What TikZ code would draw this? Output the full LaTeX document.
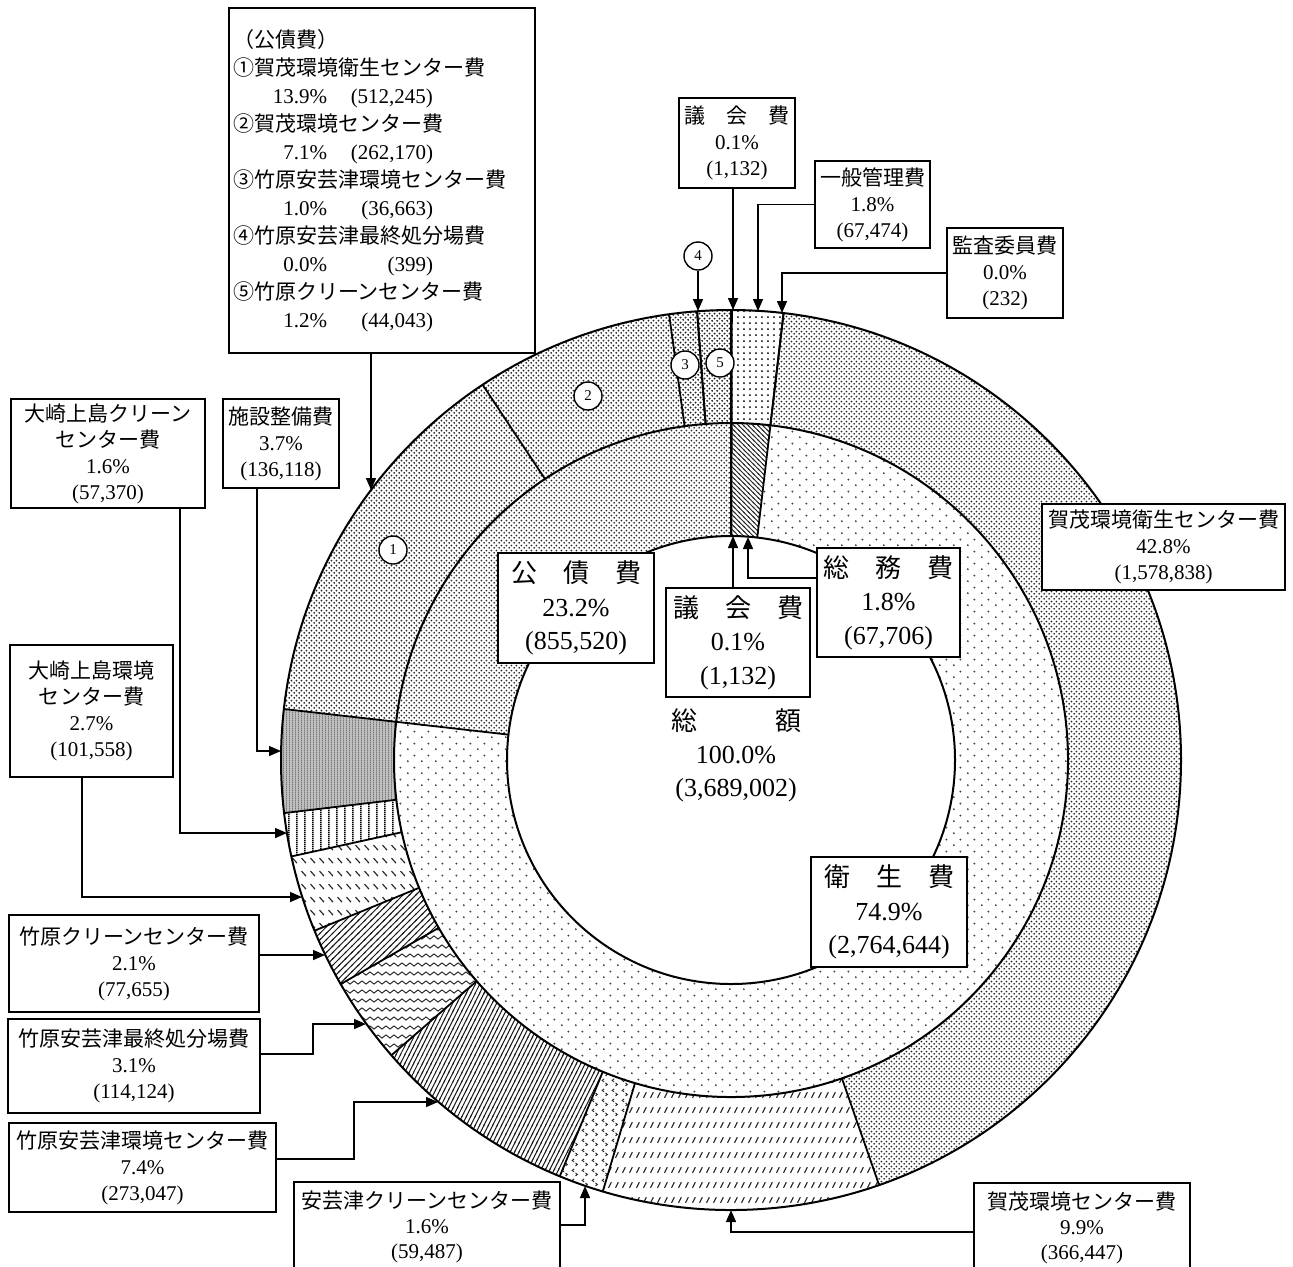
\documentclass[tikz,border=0pt]{standalone}
\usepackage{fontspec}
\setmainfont{Liberation Serif}
\newfontfamily\jp{Noto Sans CJK JP}
\usetikzlibrary{arrows.meta,patterns}

\pgfdeclarepatternformonly{fdots}{\pgfpointorigin}{\pgfqpoint{2.4pt}{2.4pt}}{\pgfqpoint{2.4pt}{2.4pt}}{%
  \pgfpathcircle{\pgfqpoint{0.6pt}{0.6pt}}{0.52pt}%
  \pgfpathcircle{\pgfqpoint{1.8pt}{1.8pt}}{0.52pt}\pgfusepath{fill}}
\pgfdeclarepatternformonly{mdots}{\pgfpointorigin}{\pgfqpoint{3.2pt}{3.2pt}}{\pgfqpoint{3.2pt}{3.2pt}}{%
  \pgfpathcircle{\pgfqpoint{1.6pt}{1.6pt}}{0.55pt}\pgfusepath{fill}}
\pgfdeclarepatternformonly{sdots}{\pgfpointorigin}{\pgfqpoint{7pt}{6pt}}{\pgfqpoint{7pt}{6pt}}{%
  \pgfpathcircle{\pgfqpoint{1pt}{1pt}}{0.55pt}%
  \pgfpathcircle{\pgfqpoint{4.5pt}{4pt}}{0.55pt}\pgfusepath{fill}}
\pgfdeclarepatternformonly{vbars}{\pgfpointorigin}{\pgfqpoint{4pt}{1pt}}{\pgfqpoint{4pt}{1pt}}{%
  \pgfpathrectangle{\pgfpointorigin}{\pgfqpoint{0.9pt}{1pt}}\pgfusepath{fill}}
\pgfdeclarepatternformonly{vfine}{\pgfpointorigin}{\pgfqpoint{1.4pt}{1pt}}{\pgfqpoint{1.4pt}{1pt}}{%
  \pgfpathrectangle{\pgfpointorigin}{\pgfqpoint{0.5pt}{1pt}}\pgfusepath{fill}}
\pgfdeclarepatternformonly{bdash}{\pgfpointorigin}{\pgfqpoint{4.7pt}{6.7pt}}{\pgfqpoint{4.7pt}{6.7pt}}{%
  \pgfsetlinewidth{0.6pt}\pgfpathmoveto{\pgfqpoint{0.8pt}{4.6pt}}\pgfpathlineto{\pgfqpoint{3.2pt}{2pt}}\pgfusepath{stroke}}
\pgfdeclarepatternformonly{neline}{\pgfqpoint{-0.5pt}{-0.5pt}}{\pgfqpoint{3.7pt}{3.7pt}}{\pgfqpoint{3.2pt}{3.2pt}}{%
  \pgfsetlinewidth{0.5pt}\pgfpathmoveto{\pgfqpoint{-0.5pt}{-0.5pt}}\pgfpathlineto{\pgfqpoint{3.7pt}{3.7pt}}\pgfusepath{stroke}}
\pgfdeclarepatternformonly{nwline}{\pgfqpoint{-0.5pt}{-0.5pt}}{\pgfqpoint{2.9pt}{2.9pt}}{\pgfqpoint{2.4pt}{2.4pt}}{%
  \pgfsetlinewidth{0.45pt}\pgfpathmoveto{\pgfqpoint{-0.5pt}{2.9pt}}\pgfpathlineto{\pgfqpoint{2.9pt}{-0.5pt}}\pgfusepath{stroke}}
\pgfdeclarepatternformonly{steep}{\pgfqpoint{-0.3pt}{-0.6pt}}{\pgfqpoint{2.5pt}{5pt}}{\pgfqpoint{2.2pt}{4.4pt}}{%
  \pgfsetlinewidth{0.5pt}\pgfpathmoveto{\pgfqpoint{-0.3pt}{-0.6pt}}\pgfpathlineto{\pgfqpoint{2.5pt}{5pt}}\pgfusepath{stroke}}
\pgfdeclarepatternformonly{wave}{\pgfqpoint{-0.5pt}{0pt}}{\pgfqpoint{4.5pt}{4.5pt}}{\pgfqpoint{4pt}{4.5pt}}{%
  \pgfsetlinewidth{0.45pt}\pgfpathmoveto{\pgfqpoint{0pt}{2.25pt}}%
  \pgfpathcurveto{\pgfqpoint{0.7pt}{3.3pt}}{\pgfqpoint{1.3pt}{3.3pt}}{\pgfqpoint{2pt}{2.25pt}}%
  \pgfpathcurveto{\pgfqpoint{2.7pt}{1.2pt}}{\pgfqpoint{3.3pt}{1.2pt}}{\pgfqpoint{4pt}{2.25pt}}%
  \pgfusepath{stroke}}
\pgfdeclarepatternformonly{chev}{\pgfpointorigin}{\pgfqpoint{5pt}{5pt}}{\pgfqpoint{5pt}{5pt}}{%
  \pgfsetlinewidth{0.5pt}%
  \pgfpathmoveto{\pgfqpoint{2.2pt}{4.4pt}}\pgfpathlineto{\pgfqpoint{1.2pt}{3.6pt}}\pgfpathlineto{\pgfqpoint{2.2pt}{2.8pt}}%
  \pgfpathmoveto{\pgfqpoint{3pt}{2.2pt}}\pgfpathlineto{\pgfqpoint{4pt}{1.4pt}}\pgfpathlineto{\pgfqpoint{3pt}{0.6pt}}%
  \pgfusepath{stroke}}
\pgfdeclarepatternformonly{slash}{\pgfpointorigin}{\pgfqpoint{3.3pt}{7.5pt}}{\pgfqpoint{3.3pt}{7.5pt}}{%
  \pgfsetlinewidth{0.55pt}\pgfpathmoveto{\pgfqpoint{0.8pt}{2.2pt}}\pgfpathlineto{\pgfqpoint{2.3pt}{5.2pt}}\pgfusepath{stroke}}

\begin{document}
\begin{tikzpicture}[x=0.5pt,y=-0.5pt,line width=0.7pt,
          >={Triangle[length=6pt,width=5pt]},
          box/.style={draw,fill=white,line width=0.9pt,inner sep=0pt,align=center,
            font=\fontsize{10.5pt}{13pt}\selectfont},
          bigbox/.style={box,font=\fontsize{13pt}{16.75pt}\selectfont},
          num/.style={circle,draw,fill=white,line width=0.7pt,inner sep=0pt,
            minimum size=14pt,font=\fontsize{7.5pt}{7.5pt}\selectfont},
          pkd/.style={pattern=fdots,pattern color=black!85},
          pmd/.style={pattern=mdots,pattern color=black},
          psd/.style={pattern=sdots,pattern color=black!75},
          pvl/.style={pattern=vbars,pattern color=black},
          pbd/.style={pattern=bdash,pattern color=black!85},
          pne/.style={pattern=neline,pattern color=black!90},
          pnw/.style={pattern=nwline,pattern color=black!85},
          pst/.style={pattern=steep,pattern color=black!90},
          pwv/.style={pattern=wave,pattern color=black!90},
          pcv/.style={pattern=chev,pattern color=black!85},
          psl/.style={pattern=slash,pattern color=black!85},
          pgr/.style={fill=black!25,postaction={pattern=vfine,pattern color=black!55}}]
  \fill[white](0,0)rectangle(1293,1266);
  \useasboundingbox(0,0)rectangle(1293,1266);
  \begin{scope}[shift={(731,760)}]
    \foreach \a/\b/\s in {-90/-89.89/pkd,-89.89/-83.30/pmd,-83.30/-83.28/pkd,-83.28/70.79/pkd,
        70.79/106.55/psl,106.55/112.36/pcv,112.36/139.00/pst,139.00/150.14/pwv,150.14/157.72/pne,
        157.72/167.63/pbd,167.63/173.23/pvl,173.23/186.51/pgr,186.51/236.50/pkd,236.50/262.09/pkd,
        262.09/265.66/pkd,265.66/265.70/pkd,265.70/270/pkd}
      {\path[\s](\a:337)--(\a:450)arc[start angle=\a,end angle=\b,radius=450]
        --(\b:337)arc[start angle=\b,end angle=\a,radius=337]--cycle;}
    \foreach \a/\b/\s in {-90/-89.89/pkd,-89.89/-83.28/pnw,-83.28/186.51/psd,186.51/270/pkd}
      {\path[\s](\a:224)--(\a:337)arc[start angle=\a,end angle=\b,radius=337]
        --(\b:224)arc[start angle=\b,end angle=\a,radius=224]--cycle;}
    \draw[line width=1pt](0,0)circle[radius=450](0,0)circle[radius=337](0,0)circle[radius=224];
    \foreach \a in {-90,-89.89,-83.30,-83.28,70.79,106.55,112.36,139.00,150.14,157.72,167.63,
        173.23,186.51,236.50,262.09,265.66,265.70}
      {\draw[line width=0.9pt](\a:337)--(\a:450);}
    \foreach \a in {-90,-89.89,-83.28,186.51}
      {\draw[line width=0.9pt](\a:224)--(\a:337);}
  \end{scope}
  \node[num](c1)at(393,550){1};
  \node[num](c2)at(588,396){2};
  \node[num](c3)at(685,365){3};
  \node[num](c4)at(698,256){4};
  \node[num](c5)at(720,363){5};
  \node[box,align=left,text width=149pt,inner xsep=2pt,minimum height=172.5pt,
        font=\fontsize{10.5pt}{14pt}\selectfont](kousai)at(382,180.5){{\jp （公債費）}\\
    {\jp ①賀茂環境衛生センター費}\\
    \makebox[47pt][r]{13.9\%}\makebox[53pt][r]{(512,245)}\\
    {\jp ②賀茂環境センター費}\\
    \makebox[47pt][r]{7.1\%}\makebox[53pt][r]{(262,170)}\\
    {\jp ③竹原安芸津環境センター費}\\
    \makebox[47pt][r]{1.0\%}\makebox[53pt][r]{(36,663)}\\
    {\jp ④竹原安芸津最終処分場費}\\
    \makebox[47pt][r]{0.0\%}\makebox[53pt][r]{(399)}\\
    {\jp ⑤竹原クリーンセンター費}\\
    \makebox[47pt][r]{1.2\%}\makebox[53pt][r]{(44,043)}};
  \node[box,minimum width=58pt,minimum height=45pt](gikai)at(737,143){{\jp 議　会　費}\\0.1\%\\(1,132)};
  \node[box,minimum width=57.5pt,minimum height=43.5pt](ippan)at(872.5,204.5){{\jp 一般管理費}\\1.8\%\\(67,474)};
  \node[box,minimum width=58pt,minimum height=45pt](kansa)at(1005,273){{\jp 監査委員費}\\0.0\%\\(232)};
  \node[box,minimum width=97pt,minimum height=54.5pt](osakic)at(108,453.5){{\jp 大崎上島クリーン}\\{\jp センター費}\\1.6\%\\(57,370)};
  \node[box,minimum width=58pt,minimum height=44.5pt](shisetsu)at(281,443.5){{\jp 施設整備費}\\3.7\%\\(136,118)};
  \node[box,minimum width=81.5pt,minimum height=66pt](osakie)at(91.5,711){{\jp 大崎上島環境}\\{\jp センター費}\\2.7\%\\(101,558)};
  \node[box,minimum width=125pt,minimum height=48.5pt](takec)at(134,963.5){{\jp 竹原クリーンセンター費}\\2.1\%\\(77,655)};
  \node[box,minimum width=126pt,minimum height=47pt](saishu)at(134,1066){{\jp 竹原安芸津最終処分場費}\\3.1\%\\(114,124)};
  \node[box,minimum width=133.5pt,minimum height=44.5pt](takee)at(142.5,1167.5){{\jp 竹原安芸津環境センター費}\\7.4\%\\(273,047)};
  \node[box,minimum width=133pt,minimum height=45pt,font=\fontsize{10.5pt}{12.5pt}\selectfont](akitsu)at(427,1227){{\jp 安芸津クリーンセンター費}\\1.6\%\\(59,487)};
  \node[box,minimum width=108pt,minimum height=45pt,font=\fontsize{10.5pt}{12.5pt}\selectfont](kamoc)at(1082,1228){{\jp 賀茂環境センター費}\\9.9\%\\(366,447)};
  \node[box,minimum width=121.5pt,minimum height=43pt](kamoe)at(1163.5,547){{\jp 賀茂環境衛生センター費}\\42.8\%\\(1,578,838)};
  \node[bigbox,minimum width=78pt,minimum height=55pt](kousaiin)at(576,608){{\jp 公　債　費}\\23.2\%\\(855,520)};
  \node[bigbox,minimum width=72pt,minimum height=54.5pt](gikaiin)at(738,642.5){{\jp 議　会　費}\\0.1\%\\(1,132)};
  \node[bigbox,minimum width=71.5pt,minimum height=54.5pt](soumu)at(888.5,602.5){{\jp 総　務　費}\\1.8\%\\(67,706)};
  \node[bigbox,minimum width=78pt,minimum height=55pt](eisei)at(889,912){{\jp 衛　生　費}\\74.9\%\\(2,764,644)};
  \node[align=center,font=\fontsize{13pt}{16.5pt}\selectfont](total)at(736,755){{\jp 総　　　額}\\100.0\%\\(3,689,002)};
  \coordinate(tkousai)at(371,490);
  \coordinate(t4)at(698,311);
  \coordinate(tgikai)at(733,310);
  \coordinate(tippan)at(758,311);
  \coordinate(tkansa)at(782,313);
  \coordinate(tgin)at(733,536);
  \coordinate(tsoumu)at(748,537);
  \coordinate(tshisetsu)at(281,751);
  \coordinate(tosakic)at(287,833);
  \coordinate(tosakie)at(302,897);
  \coordinate(ttakec)at(325,955);
  \coordinate(ksaishu)at(313,1024);
  \coordinate(tsaishu)at(366,1024);
  \coordinate(ktakee)at(354,1102);
  \coordinate(ttakee)at(438,1102);
  \coordinate(takitsu)at(585,1186);
  \coordinate(tkamoc)at(731,1210);
  \draw[->](kousai.south -| tkousai)--(tkousai);
  \draw[->](c4)--(t4);
  \draw[->](gikai.south -| tgikai)--(tgikai);
  \draw[->](ippan.west)-|(tippan);
  \draw[->](kansa.west)-|(tkansa);
  \draw[->](gikaiin.north -| tgin)--(tgin);
  \draw[->]([yshift=12.25pt]soumu.west)-|(tsoumu);
  \draw[->]([xshift=-12pt]shisetsu.south)|-(tshisetsu);
  \draw[->]([xshift=36pt]osakic.south)|-(tosakic);
  \draw[->]([xshift=-4.75pt]osakie.south)|-(tosakie);
  \draw[->](takec.east |- ttakec)--(ttakec);
  \draw[->]([yshift=6pt]saishu.east)-|(ksaishu)--(tsaishu);
  \draw[->]([yshift=4.25pt]takee.east)-|(ktakee)--(ttakee);
  \draw[->]([yshift=1pt]akitsu.east)-|(takitsu);
  \draw[->]([yshift=-2pt]kamoc.west)-|(tkamoc);
\end{tikzpicture}
\end{document}
